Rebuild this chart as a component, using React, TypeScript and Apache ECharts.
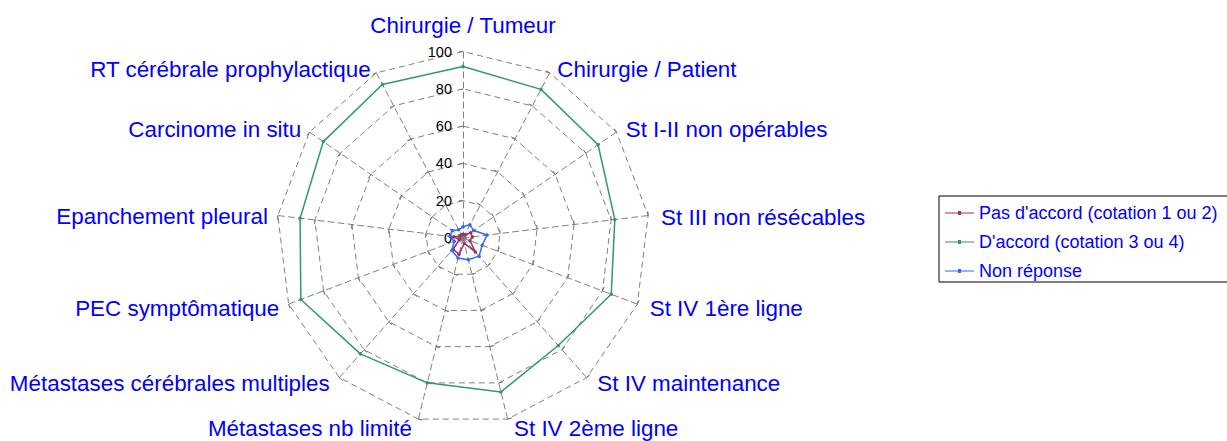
import React, { useEffect, useRef } from 'react';
import * as echarts from 'echarts';

const indicatorNames = [
  'Chirurgie / Tumeur',
  'Chirurgie / Patient',
  'St I-II non opérables',
  'St III non résécables',
  'St IV 1ère ligne',
  'St IV maintenance',
  'St IV 2ème ligne',
  'Métastases nb limité',
  'Métastases cérébrales multiples',
  'PEC symptômatique',
  'Epanchement pleural',
  'Carcinome in situ',
  'RT cérébrale prophylactique',
];
const pasDaccord = [2, 2, 5, 5, 4, 10, 3, 9, 8, 2, 5, 2, 2];
const daccord = [92, 90, 88, 82, 85, 77, 85, 80, 83, 93, 88, 91, 93];
const nonReponse = [6, 8, 7, 13, 11, 13, 12, 11, 9, 5, 7, 7, 5];
const seriesNames = [
  "Pas d'accord (cotation 1 ou 2)",
  "D'accord (cotation 3 ou 4)",
  'Non réponse',
];
const seriesColors = ['#993366', '#339966', '#3366FF'];
const axisMax = 100;

const FONT = '"Liberation Sans", Arial, sans-serif';

// per-indicator name nudges (padding: top, right, bottom, left), in original order
const namePadding = [
  [0, 0, 5, 0],
  [10, 0, 0, 3],
  [6, 0, 0, 1],
  [6, 0, 0, 3],
  [2, 0, 0, 3],
  [0, 0, 4, 4],
  [0, 0, 0, 4],
  [0, 4, 0, 0],
  [0, 3, 4, 0],
  [2, 0, 0, 0],
  [4, 0, 0, 0],
  [6, 0, 0, 0],
  [10, 1, 0, 0],
];

// ECharts lays radar indicators counter-clockwise; the reference runs clockwise.
function clockwise<T>(arr: T[]): T[] {
  return [arr[0], ...arr.slice(1).reverse()];
}

export default function App() {
  const ref = useRef<HTMLDivElement>(null);
  useEffect(() => {
    if (!ref.current) return;
    const chart = echarts.init(ref.current, undefined, { renderer: 'svg' });
    const names = clockwise(indicatorNames);
    const pads = clockwise(namePadding);
    const grey = '#808080';
    const common = {
      center: [463, 238],
      radius: 186.5,
      startAngle: 90,
      splitNumber: 5,
      shape: 'polygon',
    };
    const labelStyle = {
      color: '#000000',
      fontSize: 14.5,
      fontFamily: FONT,
      margin: 11,
    };
    const nameFont = { color: '#0000FF', fontSize: 22.4, fontFamily: FONT };
    const option: any = {
      animation: false,
      backgroundColor: '#ffffff',
      textStyle: { fontFamily: FONT },
      radar: [
        {
          ...common,
          nameGap: 10,
          axisName: {
            ...nameFont,
            verticalAlign: 'middle',
            formatter: (name: string) => `{n|${name}}`,
            rich: { n: { ...nameFont } },
          },
          indicator: names.map((name, i) =>
            i === 0
              ? {
                  name,
                  min: 0,
                  max: axisMax,
                  nameTextStyle: { verticalAlign: 'bottom', padding: pads[i] },
                  axisLabel: { show: true, ...labelStyle },
                }
              : { name, min: 0, max: axisMax, nameTextStyle: { padding: pads[i] } }
          ),
          axisLine: { show: true, lineStyle: { color: grey, width: 1, type: [6, 4] } },
          splitLine: { show: true, lineStyle: { color: grey, width: 1, type: [6, 4] } },
          splitArea: { show: false },
          axisTick: { show: true, length: 4, lineStyle: { color: grey, width: 1 } },
          axisLabel: { show: false, ...labelStyle },
        },
        {
          ...common,
          axisName: { show: false },
          indicator: names.map((name) => ({ name, min: 0, max: axisMax })),
          axisLine: { show: false },
          splitLine: { show: false },
          splitArea: { show: false },
          axisTick: { show: true, inside: true, length: 4, lineStyle: { color: grey, width: 1 } },
          axisLabel: { show: false },
        },
      ],
      legend: {
        orient: 'vertical',
        left: 939,
        top: 196,
        data: seriesNames.map((name) => ({
          name,
          icon: 'path://M0,1.5h29v1h-29zM13,0h3v4h-3z',
        })),
        itemWidth: 29,
        itemHeight: 4,
        itemGap: 11,
        borderColor: '#000000',
        borderWidth: 1,
        borderRadius: 0,
        padding: [8, 10, 2, 6],
        selectedMode: false,
        itemStyle: { borderWidth: 0 },
        textStyle: { color: '#0000FF', fontSize: 18, fontFamily: FONT, lineHeight: 18 },
      },
      series: [pasDaccord, daccord, nonReponse].map((vals, i) => ({
        type: 'radar',
        radarIndex: 0,
        symbol: 'circle',
        symbolSize: 3.5,
        z: i === 1 ? 2 : 3,
        data: [
          {
            name: seriesNames[i],
            value: clockwise(vals),
            lineStyle: { color: seriesColors[i], width: 1.5 },
            itemStyle: { color: seriesColors[i] },
          },
        ],
      })),
    };
    chart.setOption(option);
    return () => chart.dispose();
  }, []);
  return (
    <div
      ref={ref}
      style={{ position: 'absolute', left: 0, top: 0, width: 1227, height: 441, background: '#fff' }}
    />
  );
}
